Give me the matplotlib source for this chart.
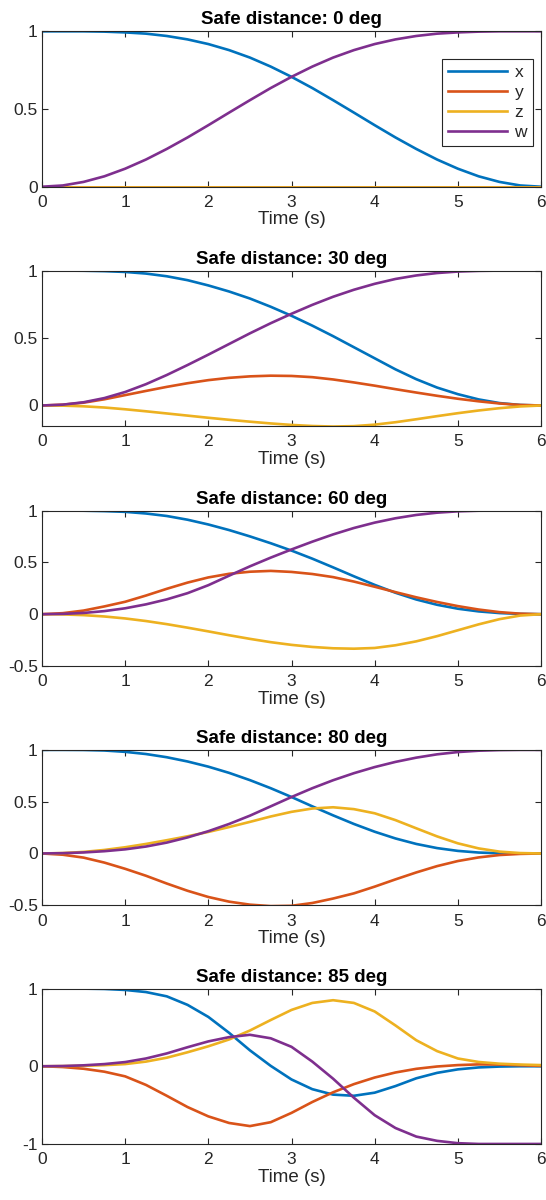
import matplotlib
matplotlib.use("Agg")
import matplotlib.pyplot as plt

plt.rcParams['font.family'] = ['Liberation Sans', 'DejaVu Sans']
plt.rcParams['axes.unicode_minus'] = False

# time samples (s)
t = [0.0, 0.25, 0.5, 0.75, 1.0, 1.25, 1.5, 1.75, 2.0, 2.25, 2.5, 2.75, 3.0,
     3.25, 3.5, 3.75, 4.0, 4.25, 4.5, 4.75, 5.0, 5.25, 5.5, 5.75, 6.0]

# safe distance 0 deg
x_0 = [1.000, 1.000, 1.000, 0.998, 0.993, 0.985, 0.970, 0.948, 0.918, 0.879, 0.831, 0.773, 0.707,
       0.635, 0.557, 0.477, 0.396, 0.317, 0.243, 0.175, 0.116, 0.067, 0.031, 0.008, 0.000]
y_0 = [0.0] * 25
z_0 = [0.0] * 25
w_0 = [0.000, 0.008, 0.031, 0.067, 0.116, 0.175, 0.243, 0.317, 0.396, 0.477, 0.557, 0.635, 0.707,
       0.773, 0.831, 0.879, 0.918, 0.948, 0.970, 0.985, 0.993, 0.998, 1.000, 1.000, 1.000]

# safe distance 30 deg
x_30 = [1.000, 1.000, 0.999, 0.996, 0.990, 0.978, 0.958, 0.929, 0.890, 0.845, 0.793, 0.732, 0.665,
        0.592, 0.514, 0.432, 0.350, 0.268, 0.195, 0.133, 0.084, 0.045, 0.018, 0.004, 0.000]
y_30 = [0.000, 0.006, 0.021, 0.046, 0.077, 0.108, 0.138, 0.165, 0.188, 0.205, 0.216, 0.221, 0.219,
        0.210, 0.193, 0.171, 0.147, 0.121, 0.096, 0.072, 0.050, 0.031, 0.015, 0.004, 0.000]
z_30 = [0.000, -0.001, -0.006, -0.015, -0.028, -0.043, -0.059, -0.075, -0.091, -0.106, -0.120, -0.133, -0.144,
        -0.152, -0.156, -0.153, -0.142, -0.124, -0.102, -0.079, -0.057, -0.037, -0.020, -0.007, 0.000]
w_30 = [0.000, 0.006, 0.024, 0.055, 0.100, 0.158, 0.226, 0.300, 0.377, 0.456, 0.535, 0.610, 0.680,
        0.746, 0.806, 0.858, 0.902, 0.938, 0.964, 0.982, 0.993, 0.998, 1.000, 1.000, 1.000]

# safe distance 60 deg
x_60 = [1.000, 1.000, 0.999, 0.995, 0.988, 0.972, 0.948, 0.912, 0.866, 0.812, 0.751, 0.685, 0.614,
        0.536, 0.452, 0.366, 0.283, 0.207, 0.142, 0.091, 0.053, 0.027, 0.011, 0.003, 0.000]
y_60 = [0.000, 0.010, 0.035, 0.075, 0.120, 0.180, 0.245, 0.305, 0.355, 0.390, 0.410, 0.418, 0.408,
        0.388, 0.358, 0.315, 0.265, 0.213, 0.163, 0.118, 0.078, 0.045, 0.020, 0.005, 0.000]
z_60 = [0.000, -0.002, -0.009, -0.022, -0.041, -0.066, -0.096, -0.130, -0.166, -0.203, -0.238, -0.270, -0.296,
        -0.316, -0.329, -0.333, -0.326, -0.300, -0.262, -0.212, -0.155, -0.098, -0.048, -0.013, 0.000]
w_60 = [0.000, 0.003, 0.012, 0.030, 0.057, 0.095, 0.143, 0.203, 0.280, 0.372, 0.462, 0.546, 0.625,
        0.700, 0.770, 0.832, 0.884, 0.926, 0.958, 0.980, 0.993, 0.999, 1.000, 1.000, 1.000]

# safe distance 80 deg
x_80 = [1.000, 1.000, 0.999, 0.994, 0.981, 0.960, 0.929, 0.888, 0.838, 0.778, 0.708, 0.630, 0.545,
        0.455, 0.368, 0.285, 0.210, 0.145, 0.092, 0.052, 0.025, 0.009, 0.002, 0.000, 0.000]
y_80 = [0.000, -0.012, -0.040, -0.088, -0.148, -0.215, -0.290, -0.360, -0.420, -0.465, -0.494, -0.508, -0.505,
        -0.478, -0.435, -0.385, -0.320, -0.250, -0.183, -0.122, -0.073, -0.038, -0.015, -0.004, 0.000]
z_80 = [0.000, 0.004, 0.015, 0.034, 0.060, 0.092, 0.128, 0.166, 0.208, 0.255, 0.305, 0.357, 0.402,
        0.434, 0.446, 0.428, 0.388, 0.322, 0.243, 0.165, 0.098, 0.049, 0.018, 0.004, 0.000]
w_80 = [0.000, 0.003, 0.010, 0.022, 0.040, 0.067, 0.105, 0.155, 0.215, 0.285, 0.365, 0.455, 0.545,
        0.630, 0.707, 0.775, 0.834, 0.884, 0.925, 0.957, 0.979, 0.992, 0.998, 1.000, 1.000]

# safe distance 85 deg
x_85 = [1.000, 1.000, 0.999, 0.995, 0.982, 0.955, 0.900, 0.790, 0.635, 0.430, 0.205, 0.005, -0.170,
        -0.295, -0.365, -0.380, -0.340, -0.255, -0.155, -0.085, -0.040, -0.015, -0.004, 0.000, 0.000]
y_85 = [0.000, -0.010, -0.032, -0.070, -0.130, -0.240, -0.380, -0.525, -0.645, -0.730, -0.770, -0.720, -0.600,
        -0.460, -0.335, -0.230, -0.145, -0.080, -0.033, -0.003, 0.015, 0.024, 0.022, 0.013, 0.005]
z_85 = [0.000, 0.002, 0.006, 0.014, 0.028, 0.060, 0.110, 0.180, 0.257, 0.345, 0.460, 0.595, 0.725,
        0.815, 0.850, 0.815, 0.705, 0.525, 0.335, 0.195, 0.100, 0.055, 0.033, 0.022, 0.015]
w_85 = [0.000, 0.003, 0.012, 0.028, 0.054, 0.100, 0.165, 0.245, 0.320, 0.375, 0.405, 0.360, 0.250,
        0.060, -0.160, -0.405, -0.630, -0.795, -0.905, -0.960, -0.990, -1.000, -1.000, -1.000, -1.000]

angles = [0, 30, 60, 80, 85]
series = [(x_0, y_0, z_0, w_0), (x_30, y_30, z_30, w_30), (x_60, y_60, z_60, w_60),
          (x_80, y_80, z_80, w_80), (x_85, y_85, z_85, w_85)]
ylims = [(0, 1), (-0.152, 1), (-0.5, 1), (-0.5, 1), (-1, 1)]
yticks = [[0, 0.5, 1], [0, 0.5, 1], [-0.5, 0, 0.5, 1], [-0.5, 0, 0.5, 1], [-1, 0, 1]]
labels = ['x', 'y', 'z', 'w']
colors = ['#0072BD', '#D95319', '#EDB120', '#7E2F8E']
axis_col = '#262626'

fig = plt.figure(figsize=(5.46, 12), dpi=100)
bottoms = [0.8444, 0.645, 0.445, 0.2456, 0.0467]

for i in range(5):
    ax = fig.add_axes([0.0769, bottoms[i], 0.914, 0.1295])
    for vals, lab, c in zip(series[i], labels, colors):
        ax.plot(t, vals, color=c, lw=1.9, label=lab)
    ax.set_xlim(0, 6)
    ax.set_ylim(*ylims[i])
    ax.set_xticks([0, 1, 2, 3, 4, 5, 6])
    ax.set_yticks(yticks[i])
    ax.set_yticklabels([f"{v:g}" for v in yticks[i]])
    ax.tick_params(direction='in', top=True, right=True, length=4, width=0.8,
                   colors=axis_col, labelsize=12.5)
    ax.tick_params(axis='x', pad=6)
    ax.tick_params(axis='y', pad=3)
    for sp in ax.spines.values():
        sp.set_color(axis_col)
        sp.set_linewidth(0.8)
    ax.set_xlabel("Time (s)", fontsize=13.5, color=axis_col, labelpad=1)
    ax.set_title(f"Safe distance: {angles[i]} deg", fontsize=13.5, fontweight='bold',
                 color='black', pad=5)
    if i == 0:
        leg = ax.legend(loc='upper right', bbox_to_anchor=(0.984, 0.825), borderaxespad=0,
                        fontsize=12.5, handlelength=3.4, handletextpad=0.45, labelspacing=0.28,
                        borderpad=0.35, fancybox=False, framealpha=1)
        leg.get_frame().set_edgecolor(axis_col)
        leg.get_frame().set_linewidth(0.8)
        for txt in leg.get_texts():
            txt.set_color(axis_col)

fig.savefig("out.png", dpi=100)
